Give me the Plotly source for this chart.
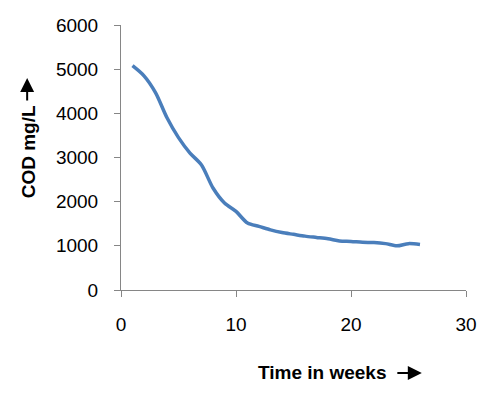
import plotly.graph_objects as go

weeks = list(range(1, 27))
cod = [5080, 4850, 4470, 3900, 3450, 3100, 2830, 2310, 1970, 1780,
       1515, 1440, 1360, 1300, 1260, 1220, 1190, 1160, 1110, 1100,
       1080, 1075, 1050, 1000, 1050, 1030]

x_ticks = [0, 10, 20, 30]
y_ticks = [0, 1000, 2000, 3000, 4000, 5000, 6000]

fig = go.Figure()
fig.add_trace(go.Scatter(x=weeks, y=cod, mode="lines",
                         line=dict(color="#4A7EBB", width=3.5, shape="spline", smoothing=0.8),
                         showlegend=False))

axis_common = dict(showgrid=False, zeroline=False, showline=True, linecolor="#868686",
                   linewidth=1, ticks="outside", ticklen=6, tickcolor="#868686",
                   automargin=False,
                   tickfont=dict(family="Liberation Sans", size=19, color="#000000"))

fig.update_xaxes(range=[0, 30], tickvals=x_ticks, ticklabelstandoff=11, **axis_common)
fig.update_yaxes(range=[0, 6000], tickvals=y_ticks, ticklabelstandoff=12, **axis_common)

title_font = dict(family="Liberation Sans", size=19, color="#000000")
fig.add_annotation(text="<b>COD mg/L</b>", xref="paper", yref="paper",
                   x=-0.267, y=0.523, xanchor="center", yanchor="middle",
                   textangle=-90, showarrow=False, font=title_font)
fig.add_annotation(text="<b>Time in weeks</b>", xref="paper", yref="paper",
                   x=0.584, y=-0.313, xanchor="center", yanchor="middle",
                   showarrow=False, font=title_font)
# direction arrows next to axis titles
fig.add_annotation(text="", xref="paper", yref="paper", x=0.872, y=-0.313,
                   axref="pixel", ayref="pixel", ax=-26, ay=0, showarrow=True,
                   arrowhead=2, arrowsize=1.4, arrowwidth=2, arrowcolor="#000000")
fig.add_annotation(text="", xref="paper", yref="paper", x=-0.272, y=0.800,
                   axref="pixel", ayref="pixel", ax=0, ay=24, showarrow=True,
                   arrowhead=2, arrowsize=1.4, arrowwidth=2, arrowcolor="#000000")

# page body has an 8px margin, so the figure is sized/margined to compensate
fig.update_layout(width=478, height=389, margin=dict(l=113, r=20, t=17, b=107),
                  plot_bgcolor="white", paper_bgcolor="white")

fig.write_html("out.html")
